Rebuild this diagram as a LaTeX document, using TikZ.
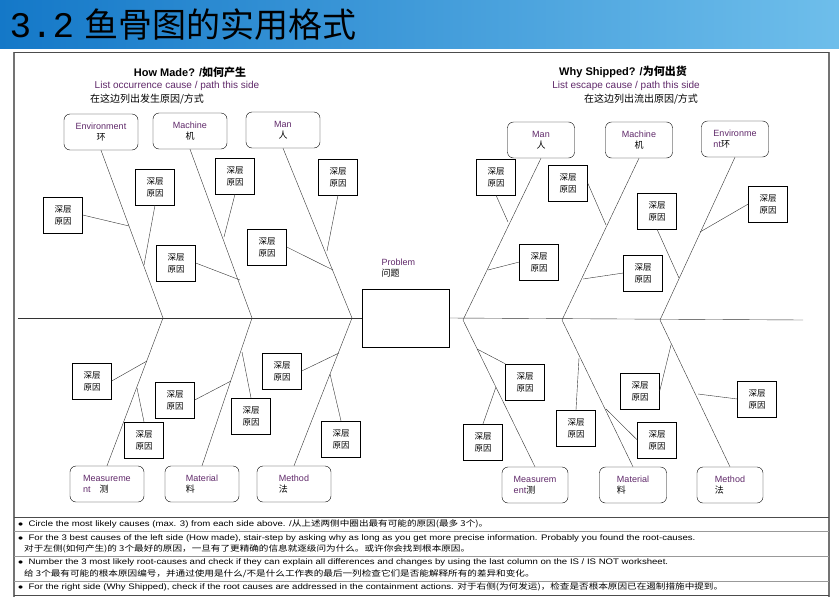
\documentclass[tikz,border=0pt]{standalone}
\usepackage{graphicx}
\usepackage{fontspec}
\setmainfont{Liberation Sans}
\newfontfamily\cjk{Noto Sans CJK SC}
\definecolor{cpurple}{RGB}{95,40,105}
\definecolor{bartop}{RGB}{20,120,200}
\definecolor{barbot}{RGB}{110,190,235}
\tikzset{
  cause/.style={draw, rounded corners=6pt, minimum width=74pt, minimum height=36pt, align=center, font=\fontsize{9}{11}\selectfont},
  subcause/.style={draw, minimum width=39pt, minimum height=36pt, align=left, font=\cjk\fontsize{8.5}{12}\selectfont},
  bone/.style={black!80, thin},
  note/.style={anchor=west, font=\fontsize{8}{8}\selectfont, inner sep=0pt}
}
\newcommand{\wide}[1]{\scalebox{1.2}[1]{#1}}
\begin{document}
\begin{tikzpicture}[x=1pt,y=-1pt]
\useasboundingbox (0,0) rectangle (839,600);

% title bar
\shade [left color=bartop, right color=barbot] (0,0) rectangle (839,48);
\node [anchor=west] (title) at (6,25) {\fontsize{36}{36}\selectfont{\fontspec{Liberation Mono}3.2} {\cjk\fontsize{34}{34}\selectfont 鱼骨图的实用格式}};

% page frame
\draw [black!55, line width=1.2pt] (14,52) -- (14,597);
\draw [black!55, line width=1.2pt] (829,52) -- (829,597);
\draw [black!70] (14,52) -- (829,52);

% headings
\node (hmade) at (190,72) {\fontsize{11}{12}\selectfont\bfseries How Made? /{\cjk 如何产生}};
\node [text=cpurple] (hmade2) at (177,86) {\fontsize{10}{11}\selectfont List occurrence cause / path this side};
\node (hmade3) at (147,99) {\cjk\fontsize{10}{11}\selectfont 在这边列出发生原因/方式};
\node (wship) at (623,72) {\fontsize{11}{12}\selectfont\bfseries Why Shipped? /{\cjk 为何出货}};
\node [text=cpurple] (wship2) at (626,86) {\fontsize{10}{11}\selectfont List escape cause / path this side};
\node (wship3) at (641,99) {\cjk\fontsize{10}{11}\selectfont 在这边列出流出原因/方式};

% problem
\node [draw, thick, minimum width=87pt, minimum height=58pt] (prob) at (406,318) {};
\node [anchor=west, align=left, font=\fontsize{9}{11}\selectfont] (plabel) at (378,268) {\textcolor{cpurple}{Problem}\\{\cjk 问题}};

% spine
\coordinate (sl) at (18,318);
\coordinate (sr) at (803,320);
\draw [bone] (sl) -- (prob.west);
\draw [bone] (prob.east) -- (sr);

% main causes
\node [cause] (lenv) at (101,132) {\textcolor{cpurple}{Environment}\\{\cjk 环}};
\node [cause] (lmac) at (190,131) {\textcolor{cpurple}{Machine}\\{\cjk 机}};
\node [cause] (lman) at (283,130) {\textcolor{cpurple}{Man}\\{\cjk 人}};
\node [cause, align=left] (lmea) at (107,484) {\textcolor{cpurple}{Measureme}\\\textcolor{cpurple}{nt}\quad{\cjk 测}};
\node [cause, align=left] (lmat) at (202,484) {\textcolor{cpurple}{Material}\\{\cjk 料}};
\node [cause, align=left] (lmet) at (294,484) {\textcolor{cpurple}{Method}\\{\cjk 法}};
\node [cause, minimum width=67pt] (rman) at (541,140) {\textcolor{cpurple}{Man}\\{\cjk 人}};
\node [cause, minimum width=67pt] (rmac) at (639,140) {\textcolor{cpurple}{Machine}\\{\cjk 机}};
\node [cause, minimum width=67pt, align=left] (renv) at (735,139) {\textcolor{cpurple}{Environme}\\\textcolor{cpurple}{nt}{\cjk 环}};
\node [cause, minimum width=66pt, align=left] (rmea) at (535,485) {\textcolor{cpurple}{Measurem}\\\textcolor{cpurple}{ent}{\cjk 测}};
\node [cause, minimum width=67pt, align=left] (rmat) at (633,485) {\textcolor{cpurple}{Material}\\{\cjk 料}};
\node [cause, minimum width=66pt, align=left] (rmet) at (730,485) {\textcolor{cpurple}{Method}\\{\cjk 法}};

% joints on the spine
\coordinate (j1) at (163,318);
\coordinate (j2) at (252,318);
\coordinate (j3) at (352,318);
\coordinate (j4) at (463,320);
\coordinate (j5) at (562,320);
\coordinate (j6) at (660,320);

\draw [bone] (lenv.south) -- (j1) -- (lmea.north);
\draw [bone] (lmac.south) -- (j2) -- (lmat.north);
\draw [bone] (lman.south) -- (j3) -- (lmet.north);
\draw [bone] (rman.south) -- (j4) -- (rmea.north);
\draw [bone] (rmac.south) -- (j5) -- (rmat.north);
\draw [bone] (renv.south) -- (j6) -- (rmet.north);

% deeper causes
\foreach \nm/\cx/\cy in {a1/63/215, a2/155/187, a3/176/263, a4/235/176, a5/267/247, a6/338/177,
  b1/92/381, b2/144/440, b3/175/400, b4/251/416, b5/282/371, b6/341/439,
  c1/496/177, c2/568/183, c3/657/211, c4/768/204, c5/539/262, c6/643/273,
  d1/525/382, d2/483/442, d3/576/428, d4/657/440, d5/640/391, d6/757/399}
  \node [subcause] (\nm) at (\cx,\cy) {深层\\原因};

\draw [bone] (a1.east) -- (129,226);
\draw [bone] (a2.south) -- (144,265);
\draw [bone] (a3.east) -- (240,280);
\draw [bone] (a4.south) -- (224,237);
\draw [bone] (a5.east) -- (333,270);
\draw [bone] (a6.south) -- (327,251);
\draw [bone] (b1.east) -- (147,361);
\draw [bone] (b2.north) -- (137,388);
\draw [bone] (b3.east) -- (231,381);
\draw [bone] (b4.north) -- (242,352);
\draw [bone] (b5.east) -- (339,353);
\draw [bone] (b6.north) -- (330,374);
\draw [bone] (c1.south) -- (508,222);
\draw [bone] (c2.east) -- (606,225);
\draw [bone] (c3.south) -- (679,278);
\draw [bone] (c4.west) -- (700,232);
\draw [bone] (c5.west) -- (488,270);
\draw [bone] (c6.west) -- (583,279);
\draw [bone] (d1.north west) -- (477,349);
\draw [bone] (d2.north) -- (496,387);
\draw [bone] (d3.north) -- (579,358);
\draw [bone] (d4.west) -- (606,409);
\draw [bone] (d5.east) -- (671,345);
\draw [bone] (d6.west) -- (698,394);

% notes
\draw [black!70] (14,517) -- (829,517);
\node [note] (n1) at (18,524) {\wide{$\bullet$\ \ Circle the most likely causes (max. 3) from each side above. /{\cjk 从上述两侧中圈出最有可能的原因(最多 3个)。}}};
\draw [black!40] (14,531) -- (829,531);
\node [note] (n2) at (18,538) {\wide{$\bullet$\ \ For the 3 best causes of the left side (How made), stair-step by asking why as long as you get more precise information. Probably you found the root-causes.}};
\node [note] (n2b) at (24,549) {\wide{\cjk 对于左侧(如何产生)的 3个最好的原因，一旦有了更精确的信息就逐级问为什么。或许你会找到根本原因。}};
\draw [black!40] (14,556) -- (829,556);
\node [note] (n3) at (18,562) {\wide{$\bullet$\ \ Number the 3 most likely root-causes and check if they can explain all differences and changes by using the last column on the IS / IS NOT worksheet.}};
\node [note] (n3b) at (24,574) {\wide{\cjk 给 3个最有可能的根本原因编号，并通过使用是什么/不是什么工作表的最后一列检查它们是否能解释所有的差异和变化。}};
\draw [black!40] (14,581) -- (829,581);
\node [note] (n4) at (18,587) {\wide{$\bullet$\ \ For the right side (Why Shipped), check if the root causes are addressed in the containment actions. {\cjk 对于右侧(为何发运)，检查是否根本原因已在遏制措施中提到。}}};
\draw [black!70] (14,595) -- (829,595);
\end{tikzpicture}
\end{document}
